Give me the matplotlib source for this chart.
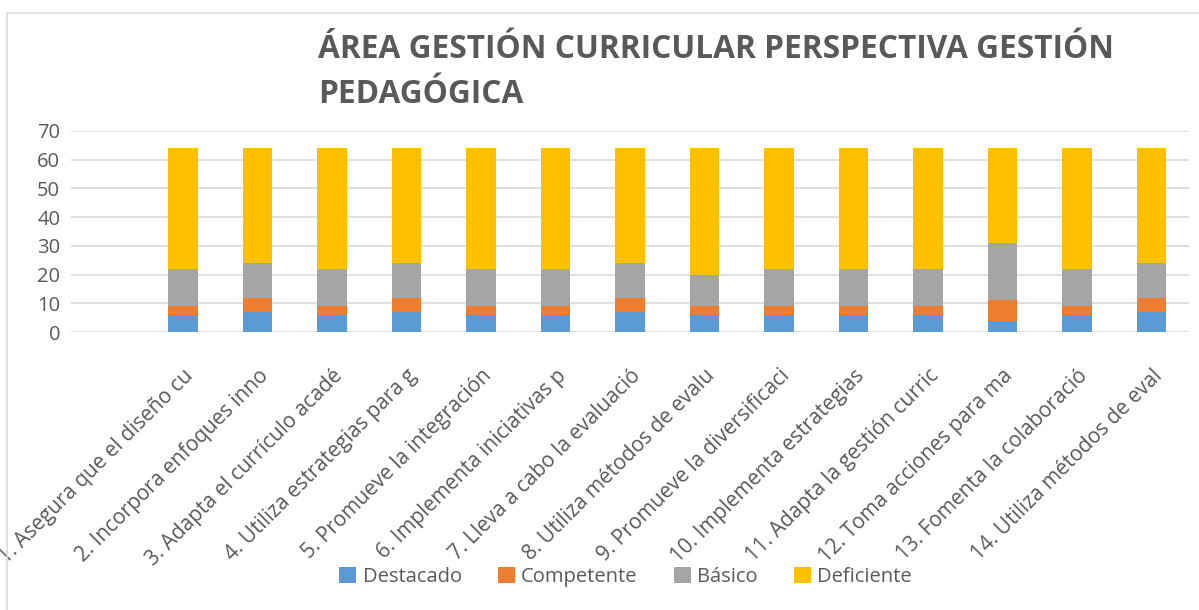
import matplotlib
matplotlib.use("Agg")
import matplotlib.pyplot as plt
from matplotlib.lines import Line2D
import numpy as np

plt.rcParams['font.family'] = ['Open Sans', 'DejaVu Sans']

categories = [
    "1. Asegura que el diseño cu",
    "2. Incorpora enfoques inno",
    "3. Adapta el currículo acadé",
    "4. Utiliza estrategias para g",
    "5. Promueve la integración",
    "6. Implementa iniciativas p",
    "7. Lleva a cabo la evaluació",
    "8. Utiliza métodos de evalu",
    "9. Promueve la diversificaci",
    "10. Implementa estrategias",
    "11. Adapta la gestión curric",
    "12. Toma acciones para ma",
    "13. Fomenta la colaboració",
    "14. Utiliza métodos de eval",
]
destacado  = [6, 7, 6, 7, 6, 6, 7, 6, 6, 6, 6, 4, 6, 7]
competente = [3, 5, 3, 5, 3, 3, 5, 3, 3, 3, 3, 7, 3, 5]
basico     = [13, 12, 13, 12, 13, 13, 12, 11, 13, 13, 13, 20, 13, 12]
deficiente = [42, 40, 42, 40, 42, 42, 40, 44, 42, 42, 42, 33, 42, 40]
series_names = ["Destacado", "Competente", "Básico", "Deficiente"]
colors = ["#5B9BD5", "#ED7D31", "#A5A5A5", "#FFC000"]
yticks = [0, 10, 20, 30, 40, 50, 60, 70]

W, H = 1199, 610
fig = plt.figure(figsize=(W / 100, H / 100), dpi=100)
left_px, right_px = 71.25, 1188.75
top_px, bot_px = 131, 332
ax = fig.add_axes([left_px / W, 1 - bot_px / H, (right_px - left_px) / W, (bot_px - top_px) / H])

x = np.arange(len(categories))
bottom = np.zeros(len(categories))
for name, vals, c in zip(series_names, [destacado, competente, basico, deficiente], colors):
    ax.bar(x, vals, width=0.4, bottom=bottom, color=c, label=name, zorder=3)
    bottom += np.array(vals)

ax.set_xlim(-1.5, len(categories) - 0.5)
ax.set_ylim(0, 70)
ax.set_yticks(yticks)
ax.set_yticklabels([str(v) for v in yticks], fontsize=14.5, color="#595959")
ax.yaxis.grid(True, color="#D9D9D9", linewidth=1.2, zorder=0)
ax.set_axisbelow(True)
for s in ax.spines.values():
    s.set_visible(False)
ax.tick_params(axis='both', length=0)
ax.tick_params(axis='y', pad=8)
ax.set_xticks(x)
ax.set_xticklabels(categories, rotation=45, ha='right', rotation_mode='anchor',
                   fontsize=15, color="#595959")
ax.tick_params(axis='x', pad=24)

fig.text(318 / W, 1 - 103 / H, "ÁREA GESTIÓN CURRICULAR PERSPECTIVA GESTIÓN\nPEDAGÓGICA",
         ha='left', va='baseline', fontsize=22.8, fontweight='bold', color="#595959",
         linespacing=1.5)

leg = fig.legend(loc='center', bbox_to_anchor=(625.5 / W, 1 - 577 / H), ncol=4, frameon=False,
                 fontsize=14.5, handlelength=0.85, handleheight=0.85, handletextpad=0.3,
                 columnspacing=1.8, borderaxespad=0)
for t in leg.get_texts():
    t.set_color("#595959")

fig.add_artist(Line2D([7 / W, 1], [1 - 13 / H, 1 - 13 / H], transform=fig.transFigure,
                      color="#D9D9D9", linewidth=1.2))
fig.add_artist(Line2D([7 / W, 7 / W], [0, 1 - 13 / H], transform=fig.transFigure,
                      color="#D9D9D9", linewidth=1.2))

fig.savefig("out.png", dpi=100)
